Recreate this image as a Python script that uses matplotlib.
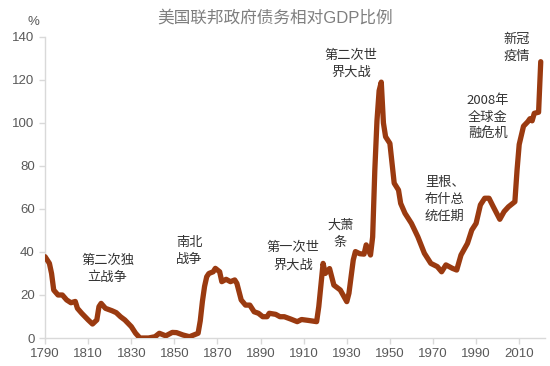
import matplotlib.pyplot as plt

plt.rcParams['font.family'] = ['Liberation Sans', 'Noto Sans CJK SC', 'DejaVu Sans']

## data
years = [1790, 1792, 1793, 1794, 1796, 1798, 1800, 1802, 1804, 1805, 1807, 1810,
         1812, 1814, 1815, 1816, 1818, 1821, 1823, 1825, 1827, 1830, 1832, 1834,
         1838, 1841, 1843, 1846, 1849, 1851, 1854, 1857, 1859, 1861, 1862, 1863,
         1864, 1865, 1866, 1868, 1869, 1871, 1872, 1874, 1876, 1878, 1879, 1881,
         1883, 1885, 1887, 1889, 1891, 1893, 1894, 1897, 1899, 1901, 1904, 1907,
         1909, 1912, 1916, 1917, 1919, 1920, 1922, 1924, 1927, 1930, 1931, 1933,
         1934, 1936, 1938, 1939, 1941, 1942, 1943, 1944, 1945, 1946, 1947, 1948,
         1950, 1952, 1954, 1955, 1957, 1960, 1963, 1966, 1969, 1972, 1974, 1976,
         1979, 1981, 1983, 1986, 1988, 1990, 1992, 1994, 1996, 1998, 2001, 2003,
         2005, 2008, 2009, 2010, 2012, 2014, 2015, 2016, 2017, 2019, 2020]
debt_pct = [37.8, 34.7, 30.0, 22.3, 20.0, 20.0, 17.7, 16.4, 17.0, 13.8, 11.5, 8.4,
            6.5, 8.4, 14.6, 16.1, 13.8, 12.7, 11.8, 9.9, 8.4, 5.3, 2.2, 0.0,
            0.0, 0.6, 2.2, 1.0, 2.6, 2.5, 1.4, 0.6, 1.4, 2.2, 8.0, 17.0,
            24.0, 28.5, 30.0, 30.8, 32.4, 30.8, 26.2, 27.3, 26.2, 27.0, 25.4, 17.7,
            15.3, 15.3, 12.2, 11.5, 9.9, 9.9, 11.5, 11.0, 9.9, 9.9, 8.8, 7.6,
            8.6, 8.2, 7.6, 14.6, 34.7, 30.0, 32.3, 24.6, 22.3, 16.9, 20.8, 36.3,
            40.2, 39.2, 39.0, 43.3, 38.6, 47.0, 78.0, 101.0, 115.0, 119.0, 100.0, 93.6,
            90.5, 72.0, 68.8, 62.6, 58.0, 53.3, 47.0, 39.4, 34.7, 33.2, 30.8, 34.0,
            32.4, 31.6, 38.6, 44.0, 50.2, 53.3, 61.9, 65.0, 65.0, 61.0, 55.2, 58.8,
            61.0, 63.4, 78.0, 90.0, 98.5, 100.6, 102.0, 101.0, 104.5, 105.0, 128.5]

x_ticks = list(range(1790, 2011, 20))
y_ticks = list(range(0, 141, 20))

events = ['第二次独\n立战争', '南北\n战争', '第一次世\n界大战', '大萧\n条',
          '第二次世\n界大战', '2008年\n全球金\n融危机', '里根、\n布什总\n统任期', '新冠\n疫情']
event_x = [1819, 1857, 1905, 1927, 1932, 1995.5, 1975.5, 2009]
event_y = [39, 47.5, 45, 55.5, 134.5, 113.5, 75.5, 142]

## plot
fig = plt.figure(figsize=(5.5, 3.66), dpi=100)
ax = fig.add_axes([0.082, 0.0765, 0.909, 0.8225])

ax.plot(years, debt_pct, color='#9A3A10', linewidth=3.8,
        solid_joinstyle='round', solid_capstyle='round', zorder=3)

ax.set_xlim(1790, 2022)
ax.set_ylim(0, 140)
ax.set_xticks(x_ticks)
ax.set_yticks(y_ticks)
ax.tick_params(colors='#D9D9D9', labelcolor='#595959', labelsize=9.5, length=4, width=1)
ax.set_xticklabels([str(t) for t in x_ticks])

for s in ['top', 'right']:
    ax.spines[s].set_visible(False)
for s in ['left', 'bottom']:
    ax.spines[s].set_color('#D9D9D9')
    ax.spines[s].set_linewidth(1)
ax.spines['left'].set_zorder(1)

for txt, ex, ey in zip(events, event_x, event_y):
    ax.text(ex, ey, txt, ha='center', va='top', fontsize=9.5, color='#333333',
            family=['Noto Sans CJK SC', 'DejaVu Sans'], linespacing=1.4)

fig.text(0.5, 0.953, '美国联邦政府债务相对GDP比例', ha='center', va='center',
         fontsize=12, color='#7F7F7F', family=['Liberation Sans', 'Noto Sans CJK SC'])
fig.text(0.06, 0.94, '%', ha='center', va='center', fontsize=9.5, color='#595959')

fig.savefig('out.png', dpi=100)
